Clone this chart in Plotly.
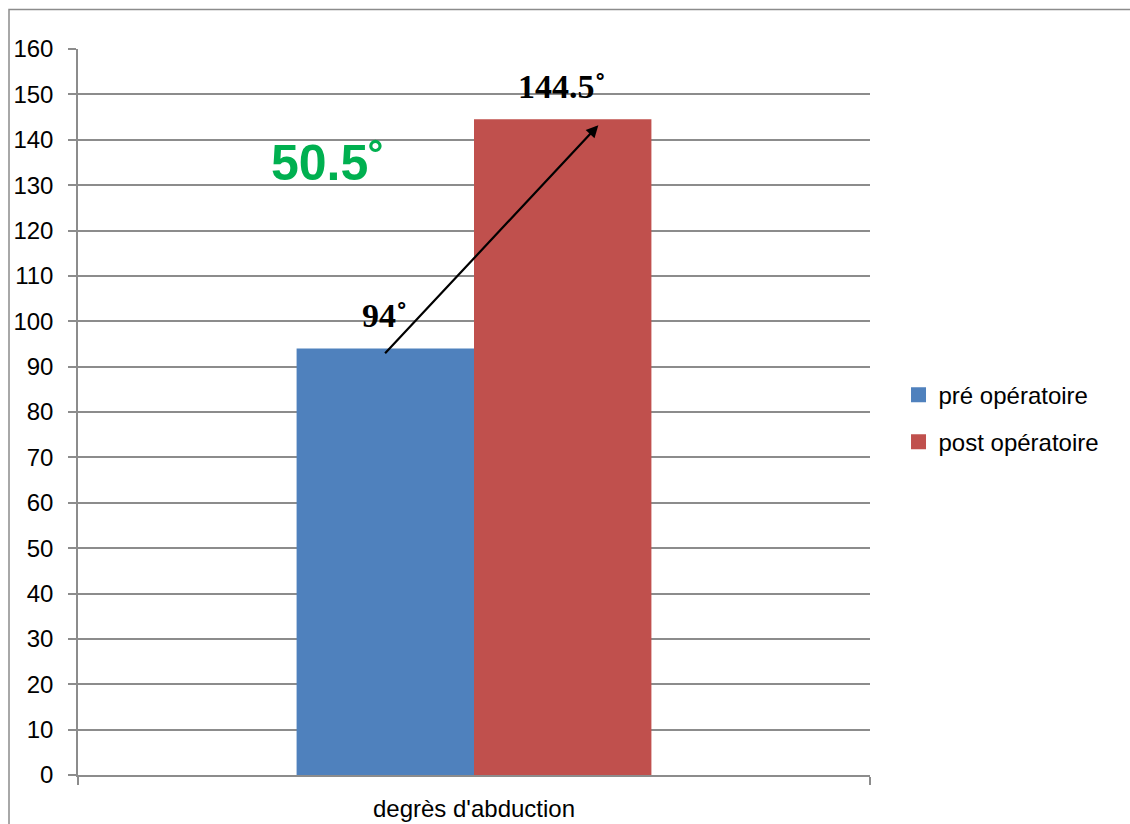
import plotly.graph_objects as go

categories = ["degrès d'abduction"]
series_names = ["pré opératoire", "post opératoire"]
pre_values = [94]
post_values = [144.5]
colors = ["#4F81BD", "#C0504D"]
y_ticks = list(range(0, 161, 10))

GRID = "#8C8C8C"
SANS = "Liberation Sans, Arial, sans-serif"
SERIF = "Liberation Serif, Times New Roman, serif"

fig = go.Figure()
for name, vals, col in zip(series_names, [pre_values, post_values], colors):
    fig.add_trace(go.Bar(x=categories, y=vals, name=name, marker_color=col,
                         marker_line_width=0, showlegend=False))
# legend entries with larger square swatches
for name, col in zip(series_names, colors):
    fig.add_trace(go.Scatter(x=[None], y=[None], mode="markers", name=name,
                             marker=dict(symbol="square", size=15, color=col),
                             legendgroup=name))

W, H = 1130, 824
L, R, T, B = 78, 260, 49, 49
plot_w = W - L - R
bargap = 0.552
bar_w_px = plot_w * (1 - bargap) / 2

# value labels above bars
for i, v in enumerate([pre_values[0], post_values[0]]):
    fig.add_annotation(x=categories[0], y=v, xref="x", yref="y",
                       text=f"<b>{v:g}˚</b>", showarrow=False,
                       xshift=(i - 0.5) * bar_w_px - 1, yanchor="bottom", yshift=12,
                       font=dict(family=SERIF, size=34, color="black"))

# arrow from pre to post
fig.add_annotation(x=0.657, y=post_values[0] - 1.3, xref="x domain", yref="y",
                   ax=0.386, ay=pre_values[0] - 1.4, axref="x domain", ayref="y",
                   text="", showarrow=True, arrowhead=2, arrowsize=1.1,
                   arrowwidth=2.2, arrowcolor="black")

# difference label
diff = post_values[0] - pre_values[0]
fig.add_annotation(x=0.316, y=134.8, xref="paper", yref="y", xanchor="center",
                   yanchor="middle",
                   text=f"<b>{diff:g}˚</b>",
                   showarrow=False,
                   font=dict(family=SANS, size=50, color="#00B050"))

# outer chart border
fig.add_shape(type="rect", xref="paper", yref="paper",
              x0=(9 - L) / plot_w, x1=1.6,
              y0=-0.3, y1=(H - B - 9.5) / (H - T - B),
              line=dict(color="#8C8C8C", width=1.5), layer="below")

fig.update_layout(
    width=W, height=H,
    margin=dict(l=L, r=R, t=T, b=B, pad=0),
    paper_bgcolor="white", plot_bgcolor="white",
    barmode="group", bargap=bargap, bargroupgap=0,
    font=dict(family=SANS, size=24, color="black"),
    showlegend=True,
    legend=dict(x=1.036, y=0.491, xanchor="left", yanchor="middle",
                font=dict(family=SANS, size=24, color="black"),
                tracegroupgap=13, bgcolor="rgba(0,0,0,0)"),
    xaxis=dict(type="category", showgrid=False, showline=True, linecolor=GRID,
               linewidth=1.5, ticks="outside", tickson="boundaries", ticklen=8,
               tickcolor=GRID, tickwidth=1.5, ticklabelstandoff=11,
               automargin=False, tickfont=dict(family=SANS, size=24)),
    yaxis=dict(range=[0, 160], tickvals=y_ticks, showgrid=True, gridcolor=GRID,
               gridwidth=1.5, showline=True, linecolor=GRID, linewidth=1.5,
               ticks="outside", ticklen=8, tickcolor=GRID, tickwidth=1.5,
               ticklabelstandoff=10, zeroline=False, automargin=False,
               tickfont=dict(family=SANS, size=24)),
)

fig.write_html("out.html")
